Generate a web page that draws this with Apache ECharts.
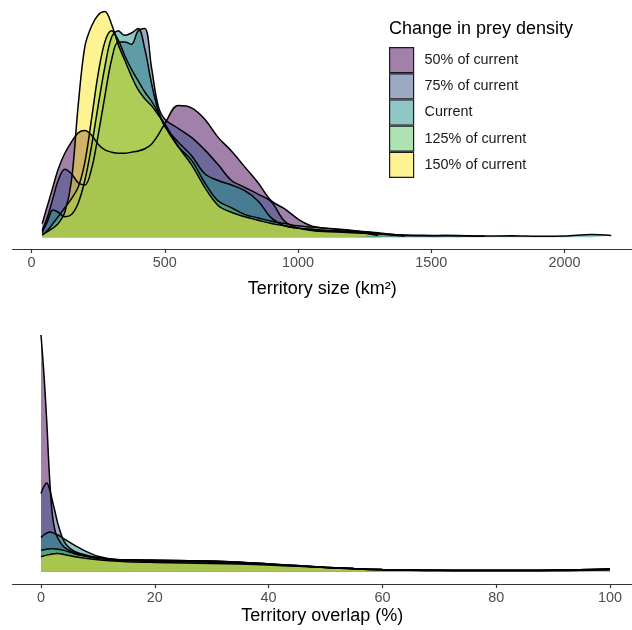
<!DOCTYPE html>
<html>
<head>
<meta charset="utf-8">
<script src="https://cdn.jsdelivr.net/npm/echarts@6/dist/echarts.min.js"></script>
<style>
  html, body { margin: 0; padding: 0; background: #fff; }
  #chart { width: 632px; height: 630px; }
</style>
</head>
<body>
<div id="chart"></div>
<script>
// change in prey density (legend groups), drawn in this order
const groups = ['50% of current', '75% of current', 'Current', '125% of current', '150% of current']
const fills = ['#440154', '#3b528b', '#21908c', '#5dc863', '#fde725']

// territory size (km2) -> density (relative height, tallest peak = 100)
const sizeX = [40, 60, 80, 100, 125, 150, 175, 200, 225, 250, 275, 300, 325, 350, 375, 400, 425, 450, 475, 500,
  550, 600, 650, 700, 750, 800, 850, 900, 950, 1000, 1050, 1100, 1200, 1300, 1400, 1500, 1600, 1700, 1800, 1900, 2000, 2100, 2175]
const size50 = [6, 14, 22, 30, 37, 42, 46, 47, 45, 41, 38.5, 37.5, 37, 37, 37.5, 38, 39, 41, 45, 50,
  58, 57, 52, 44, 38, 31, 24, 16, 12.5, 8, 5, 4, 3, 2, 0.6, null, null, null, null, null, null, null, null]
const size75 = [3, 9, 17, 25, 30, 28, 24, 23, 30, 45, 62, 78, 86, 86, 85, 91, 92, 75, 58, 52,
  48, 44, 38.5, 32, 25, 22, 19, 15.5, 7, 4, 3, 2.5, 2, 1.5, 1, 0.8, 0.6, 0.4, null, null, null, null, null]
const size100 = [2, 7, 12, 11, 9, 10, 15, 25, 40, 58, 75, 88, 91, 89, 90, 92, 83, 68, 56, 49,
  42, 36, 28, 25, 23, 20.5, 16, 8.5, 5, 4, 3.5, 3, 2.5, 1.5, 0.8, 0.6, 0.8, 0.5, 0.6, 0.4, 0.5, 1.2, 0.8]
const size125 = [1, 3, 6, 9, 13, 17, 22, 33, 52, 72, 86, 91, 87, 80, 74, 69, 64, 60, 55, 49,
  40, 34, 24, 16, 13, 10, 8.5, 7, 6, 5, 4.5, 4, 3, 1.5, 0.5, null, null, null, null, null, null, null, null]
const size150 = [1, 2.5, 4, 6, 11, 25, 58, 84, 93, 98, 99.5, 94, 85, 78, 71, 65, 61, 58, 54, 50,
  40, 32, 22, 14, 11, 9, 7.5, 6, 5, 4, 3.5, 3, 2.5, 0.8, null, null, null, null, null, null, null, null, null]
const sizeTicks = [0, 500, 1000, 1500, 2000]

// territory overlap (%) -> density (relative height, tallest peak = 100)
const overlapX = [0, 0.5, 1, 1.5, 2, 2.5, 3, 4, 5, 6, 8, 10, 12, 15, 20, 25, 30, 35, 40, 45,
  50, 55, 60, 65, 70, 75, 80, 85, 90, 95, 100]
const overlap50 = [100, 84, 64, 40, 24, 17, 14, 10.5, 9, 8, 6.5, 5.8, 5.3, 5, 4.8, 4.7, 4.5, 4, 3.2, 2.5,
  1.8, 1.2, 0.8, 0.6, 0.5, 0.5, 0.5, 0.5, 0.5, 0.6, 0.8]
const overlap75 = [33, 36, 37.5, 35, 30, 25, 20, 13, 10, 8.5, 7, 6, 5.3, 5, 4.8, 4.6, 4.4, 4, 3.3, 2.6,
  1.9, 1.3, 0.9, 0.7, 0.6, 0.5, 0.5, 0.5, 0.5, 0.6, 0.8]
const overlap100 = [14.5, 15.5, 16.3, 16.8, 16.5, 16, 15.5, 14, 12.5, 11, 8.5, 6.5, 5.5, 5, 4.8, 4.6, 4.4, 4, 3.3, 2.6,
  1.9, 1.3, 0.9, 0.7, 0.6, 0.5, 0.5, 0.5, 0.6, 0.7, 1]
const overlap125 = [9, 9.3, 9.5, 9.6, 9.7, 9.6, 9.5, 9, 8.3, 7.5, 6.5, 5.8, 5.2, 4.7, 4.3, 4.2, 4, 3.6, 3, 2.4,
  1.8, 1.2, 0.8, 0.6, 0.5, 0.5, 0.5, 0.5, 0.6, 0.8, 1.1]
const overlap150 = [6.3, 6.7, 7, 7.3, 7.5, 7.6, 7.7, 7.3, 6.8, 6.3, 5.6, 5, 4.6, 4.2, 3.9, 3.7, 3.5, 3.2, 2.8, 2.3,
  1.8, 1.3, 0.9, 0.7, 0.6, 0.6, 0.6, 0.6, 0.7, 0.9, 1.2]
const overlapTicks = [0, 20, 40, 60, 80, 100]

const sizeSets = [size50, size75, size100, size125, size150]
const overlapSets = [overlap50, overlap75, overlap100, overlap125, overlap150]

function pairs(xs, ys) {
  return xs.map((x, i) => [x, ys[i]]).filter(p => p[1] != null)
}
function fade(hex, a) {
  const n = parseInt(hex.slice(1), 16)
  return 'rgba(' + (n >> 16) + ',' + ((n >> 8) & 255) + ',' + (n & 255) + ',' + a + ')'
}

const fontFamily = '"Liberation Sans", Arial, Helvetica, sans-serif'
const axisColor = '#333'

function xAxisFor(gridIndex, min, max, ticks, name, nameGap) {
  return {
    gridIndex, type: 'value', min, max,
    splitLine: { show: false },
    axisLine: { onZero: false, lineStyle: { color: axisColor, width: 1.2 } },
    axisTick: { length: 4, customValues: ticks, lineStyle: { color: axisColor, width: 1.2 } },
    axisLabel: {
      customValues: ticks, color: '#4d4d4d', fontSize: 14.4, margin: 7, fontFamily,
      formatter: v => String(v)
    },
    name, nameLocation: 'middle', nameGap,
    nameTextStyle: { color: '#000', fontSize: 18, fontFamily }
  }
}

function densitySeries(gridIndex, xs, sets) {
  return sets.map((ys, i) => ({
    name: groups[i],
    type: 'line',
    xAxisIndex: gridIndex,
    yAxisIndex: gridIndex,
    data: pairs(xs, ys),
    smooth: 0.35,
    showSymbol: false,
    silent: true,
    itemStyle: { color: fade(fills[i], 0.5) },
    lineStyle: { color: '#000', width: 1.5 },
    areaStyle: { color: fills[i], opacity: 0.5 }
  }))
}

const chart = echarts.init(document.getElementById('chart'), null, { renderer: 'canvas' })
chart.setOption({
  animation: false,
  backgroundColor: '#fff',
  textStyle: { fontFamily },
  title: {
    text: 'Change in prey density',
    left: 389, top: 20, padding: 0,
    textStyle: { fontSize: 18, fontWeight: 'normal', color: '#000', fontFamily }
  },
  legend: {
    orient: 'vertical', left: 389, top: 47, padding: 0,
    itemWidth: 24, itemHeight: 25, itemGap: 0,
    icon: 'rect',
    selectedMode: false,
    textStyle: { fontSize: 14.4, color: '#1a1a1a', padding: [0, 0, 0, 6], fontFamily },
    data: groups.map((g, i) => ({
      name: g,
      itemStyle: { color: fade(fills[i], 0.5), borderColor: '#1a1a1a', borderWidth: 1.2 }
    }))
  },
  grid: [
    { left: 12.6, top: -1, width: 619.4, height: 250, outerBoundsMode: 'none' },
    { left: 12.55, top: 323.2, width: 619.45, height: 260.8, outerBoundsMode: 'none' }
  ],
  xAxis: [
    xAxisFor(0, -71, 2253, sizeTicks, 'Territory size (km²)', 31),
    xAxisFor(1, -5, 103.87, overlapTicks, 'Territory overlap (%)', 23)
  ],
  yAxis: [
    { gridIndex: 0, type: 'value', min: -5.2, max: 105, show: false },
    { gridIndex: 1, type: 'value', min: -5.2, max: 105, show: false }
  ],
  series: densitySeries(0, sizeX, sizeSets).concat(densitySeries(1, overlapX, overlapSets))
})
</script>
</body>
</html>
